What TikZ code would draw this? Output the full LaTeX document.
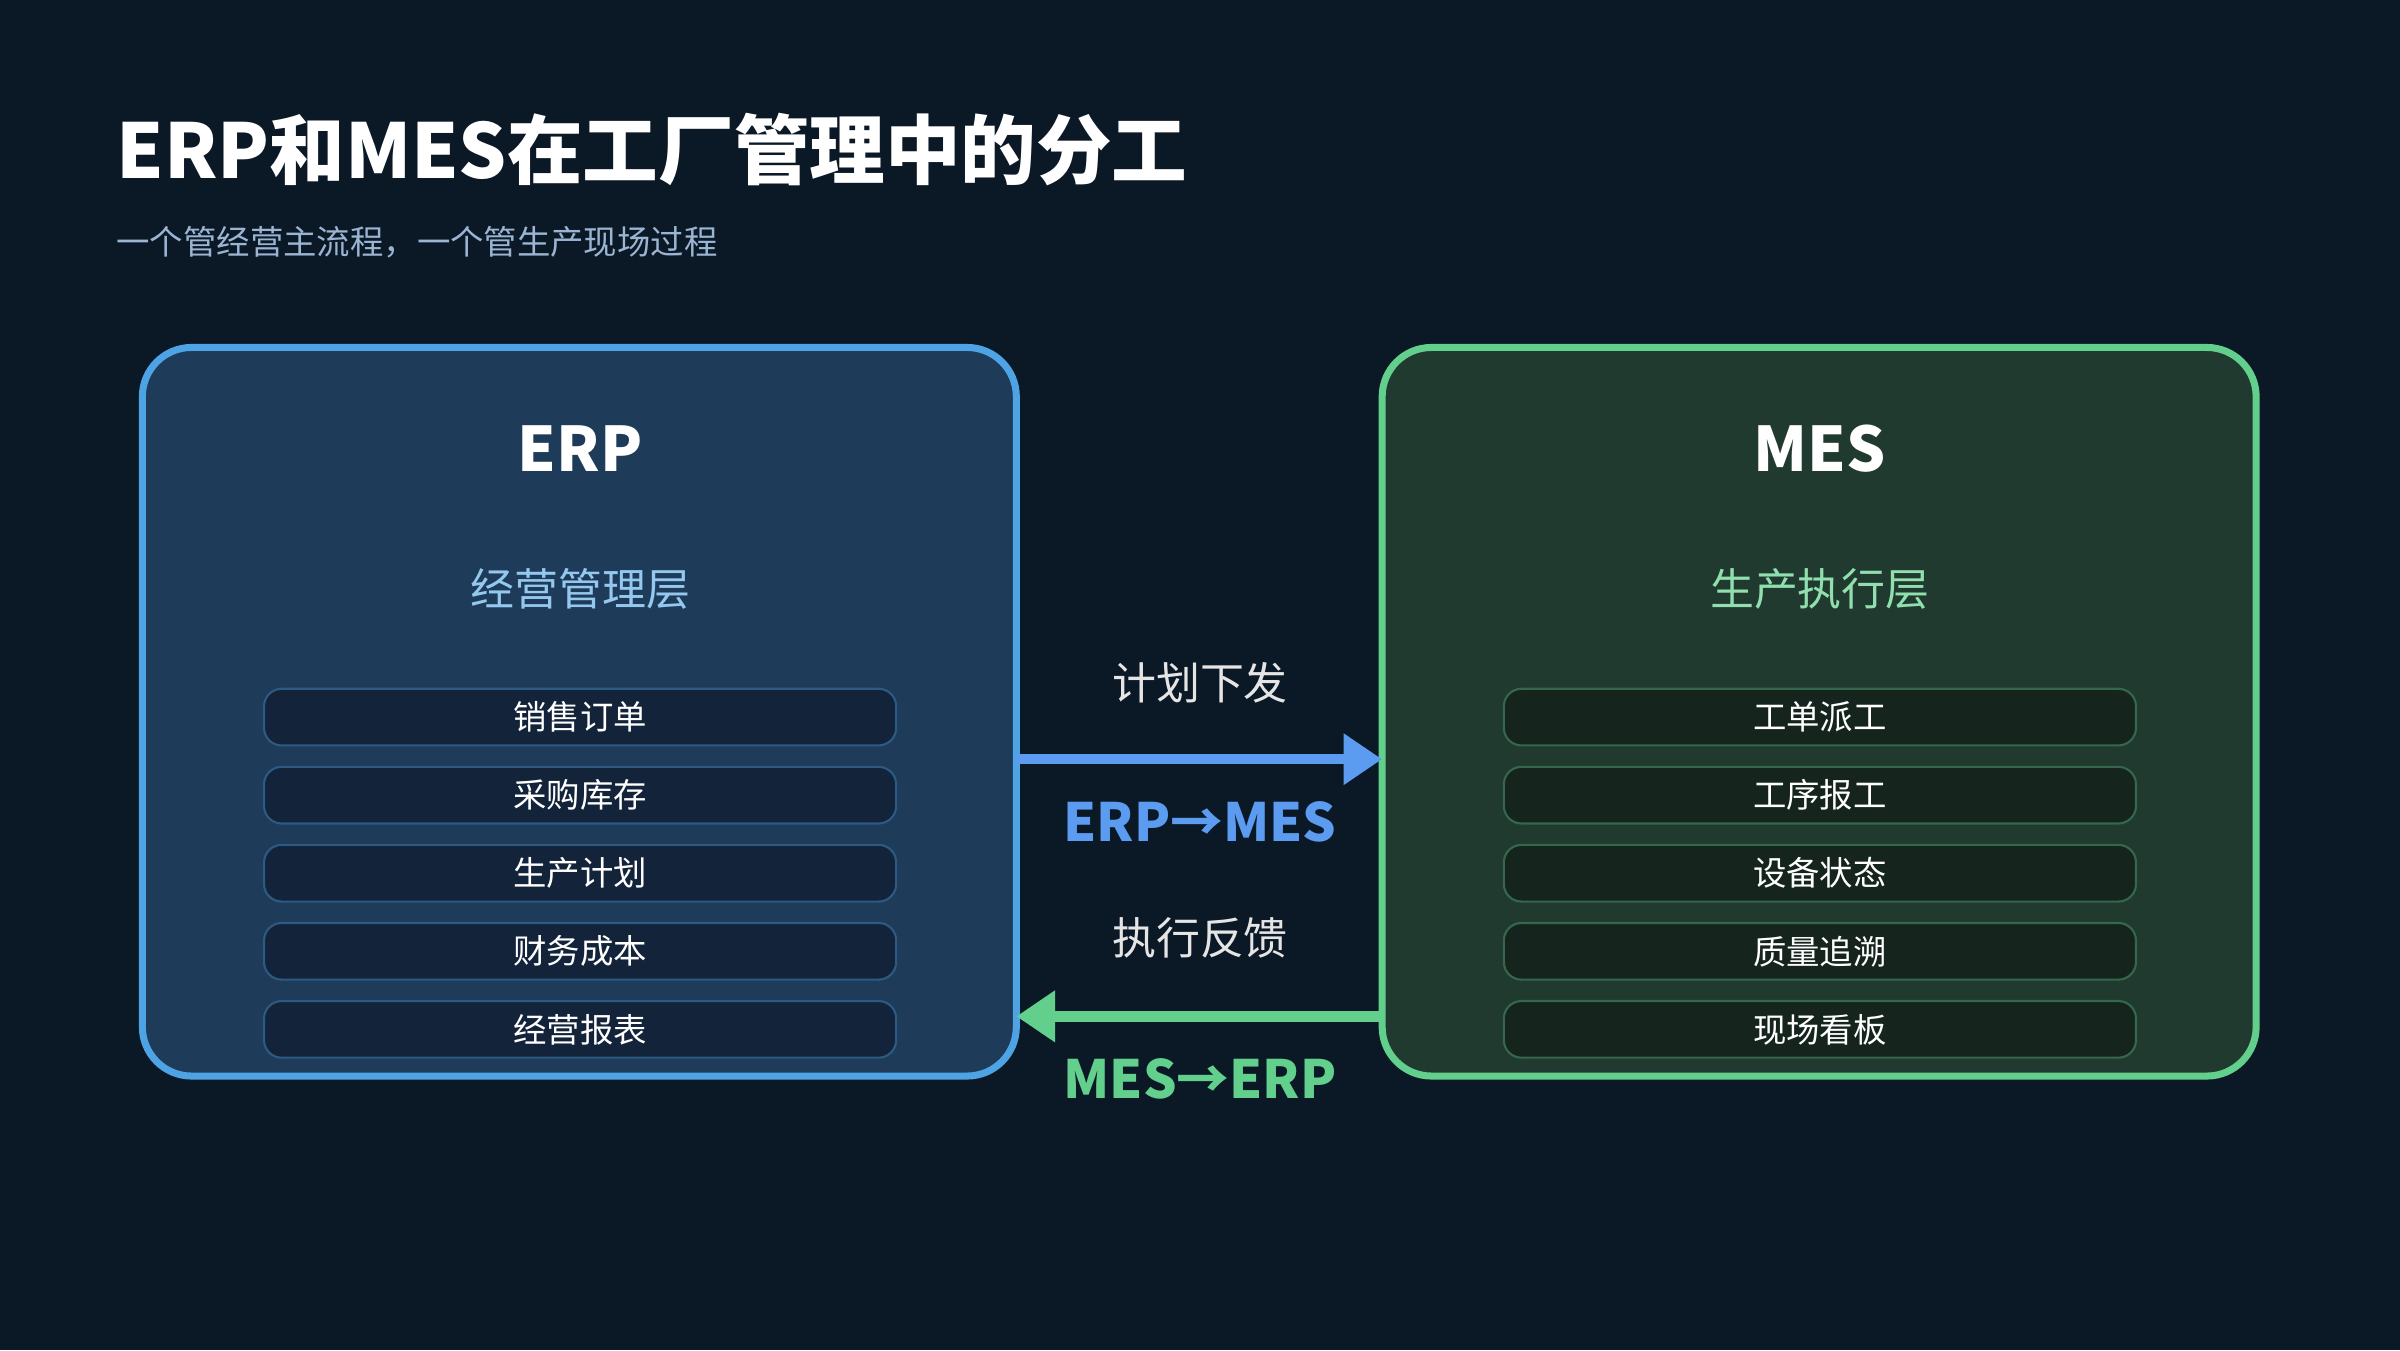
\documentclass[tikz,border=0pt]{standalone}
\usepackage{fontspec}
\setmainfont{Noto Sans CJK SC}
\usetikzlibrary{positioning,arrows.meta}
\definecolor{bgc}{HTML}{0B1826}
\definecolor{erpfill}{HTML}{1E3B5A}
\definecolor{erpline}{HTML}{4EA3E4}
\definecolor{erpitem}{HTML}{132339}
\definecolor{mesfill}{HTML}{213A30}
\definecolor{mesline}{HTML}{62D08C}
\definecolor{mesitem}{HTML}{15251E}
\definecolor{arrblue}{HTML}{5B9BF0}
\definecolor{subc}{HTML}{9AB4D2}
\tikzset{
    panel/.style={rounded corners=14pt, line width=2pt},
    item/.style={rounded corners=5pt, line width=0.6pt, minimum width=413*0.015306cm,
        minimum height=37*0.015306cm, text=white, font=\fontsize{9.5}{11}\selectfont},
    lab/.style={text=white!90!black, font=\fontsize{12.5}{14}\selectfont},
    tag/.style={font=\fontsize{15}{18}\selectfont\bfseries},
}
\begin{document}
\begin{tikzpicture}[x=0.015306cm, y=-0.015306cm]
    \fill[bgc] (0,0) rectangle (1568,882);
    \useasboundingbox (0,0) rectangle (1568,882);
    % heading
    \node[anchor=west, text=white, font=\fontsize{21.5}{26}\selectfont\bfseries] (title) at (68,98) {ERP和MES在工厂管理中的分工};
    \node[anchor=west, text=subc, font=\fontsize{9.5}{11}\selectfont] (sub) at (68,158) {一个管经营主流程，一个管生产现场过程};
    % panels
    \draw[panel, fill=erpfill, draw=erpline] (93,227) rectangle (664,703);
    \draw[panel, fill=mesfill, draw=mesline] (903,227) rectangle (1474,703);
    \node[text=white, font=\fontsize{17.5}{21}\selectfont\bfseries] (erp) at (379,293) {ERP};
    \node[text=white, font=\fontsize{17.5}{21}\selectfont\bfseries] (mes) at (1189,293) {MES};
    \node[text=erpline!60!white, font=\fontsize{12.5}{14}\selectfont] (erplayer) at (379,385) {经营管理层};
    \node[text=mesline!70!white, font=\fontsize{12.5}{14}\selectfont] (meslayer) at (1189,385) {生产执行层};
    \foreach \lab/\mlab [count=\n from 0, evaluate=\n as \mypos using 468.5+51*\n] in {%
        销售订单/工单派工,
        采购库存/工序报工,
        生产计划/设备状态,
        财务成本/质量追溯,
        经营报表/现场看板%
    }{
        \node[item, fill=erpitem, draw=erpline!30!erpfill] (e\n) at (379,\mypos) {\lab};
        \node[item, fill=mesitem, draw=mesline!30!mesfill] (m\n) at (1189,\mypos) {\mlab};
    }
    % flows
    \coordinate (erpR1) at (664,496);
    \coordinate (mesL1) at (903,496);
    \coordinate (erpR2) at (664,664);
    \coordinate (mesL2) at (903,664);
    \draw[arrblue, line width=3pt, -{Triangle[length=11pt,width=14pt]}] (erpR1) -- (mesL1);
    \draw[mesline, line width=3pt, -{Triangle[length=11pt,width=14pt]}] (mesL2) -- (erpR2);
    \node[lab] (plan) at (784,446) {计划下发};
    \node[tag, text=arrblue] (down) at (784,537) {ERP→MES};
    \node[lab] (back) at (784,613) {执行反馈};
    \node[tag, text=mesline] (up) at (784,705) {MES→ERP};
\end{tikzpicture}
\end{document}
